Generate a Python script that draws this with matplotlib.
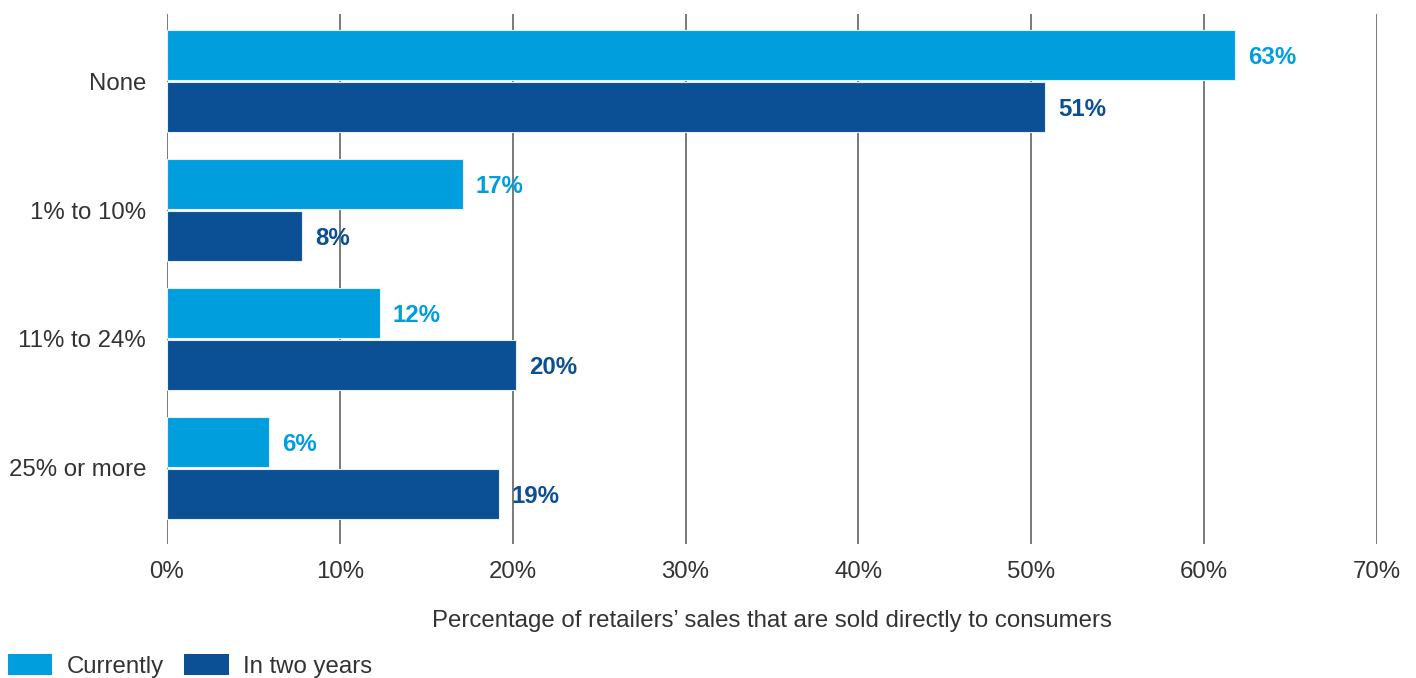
import matplotlib.pyplot as plt
from matplotlib.patches import Patch
import numpy as np

# Data
categories = ["None", "1% to 10%", "11% to 24%", "25% or more"]
currently = [61.8, 17.1, 12.3, 5.9]
two_years = [50.8, 7.8, 20.2, 19.2]
currently_labels = ["63%", "17%", "12%", "6%"]
two_years_labels = ["51%", "8%", "20%", "19%"]
xticks = [0, 10, 20, 30, 40, 50, 60, 70]

light = "#009EDC"
dark = "#0B4F94"
text_col = "#333333"

plt.rcParams['font.family'] = ['Liberation Sans', 'DejaVu Sans']
fs = 17.3

fig = plt.figure(figsize=(14.16, 6.78), dpi=100)
ax = fig.add_axes([167/1416, 1 - 544/678, (1377 - 167)/1416, (544 - 14)/678])

y = np.arange(len(categories))
h = 0.39
ax.barh(y - 0.2, currently, height=h, color=light, edgecolor="#e6eef5", linewidth=0.8, zorder=3)
ax.barh(y + 0.2, two_years, height=h, color=dark, edgecolor="#e6eef5", linewidth=0.8, zorder=3)

for i in range(len(categories)):
    ax.text(currently[i] + 0.75, y[i] - 0.2 + 0.02, currently_labels[i], color=light,
            fontsize=fs, fontweight='bold', va='center', ha='left')
    ax.text(two_years[i] + 0.75, y[i] + 0.2 + 0.02, two_years_labels[i], color=dark,
            fontsize=fs, fontweight='bold', va='center', ha='left')

ax.set_xlim(0, 70)
ax.set_ylim(3.59, -0.52)
ax.set_xticks(xticks)
ax.set_xticklabels([f"{t}%" for t in xticks])
ax.set_yticks(y)
ax.set_yticklabels(categories)
ax.tick_params(axis='both', length=0, labelsize=fs, labelcolor=text_col)
ax.tick_params(axis='x', pad=12)
ax.tick_params(axis='y', pad=15)

ax.grid(axis='x', color='#6e6e6e', linewidth=1.3, zorder=0)
for s in ax.spines.values():
    s.set_visible(False)

ax.set_xlabel("Percentage of retailers\u2019 sales that are sold directly to consumers",
              fontsize=fs, color=text_col, labelpad=20)

handles = [Patch(facecolor=light, label="Currently"),
           Patch(facecolor=dark, label="In two years")]
fig.legend(handles=handles, loc='lower left', bbox_to_anchor=(8/1416, 0), ncol=2,
           frameon=False, fontsize=fs, handlelength=1.85, handleheight=0.95,
           handletextpad=0.6, columnspacing=0.85, borderpad=0, borderaxespad=0,
           labelcolor=text_col)

fig.savefig("out.png", dpi=100)
